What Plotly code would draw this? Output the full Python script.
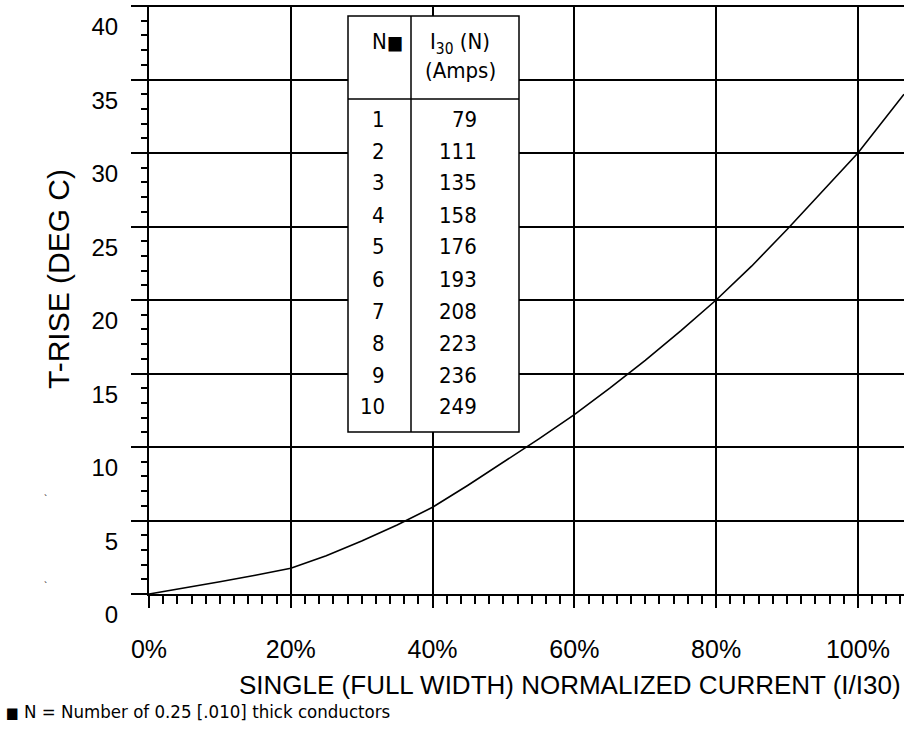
import plotly.graph_objects as go

# Temperature rise vs. normalized current
current_frac = [0, 0.05, 0.10, 0.15, 0.20, 0.25, 0.30, 0.35, 0.40, 0.45, 0.50,
                0.55, 0.60, 0.65, 0.70, 0.75, 0.80, 0.85, 0.90, 0.95, 1.00, 1.065]
t_rise = [0, 0.40, 0.83, 1.27, 1.75, 2.6, 3.6, 4.7, 5.9, 7.4, 8.95,
          10.55, 12.2, 14.0, 15.9, 17.9, 20.0, 22.3, 24.8, 27.4, 30.0, 34.0]

# Table of I30 per number of conductors
n_conductors = [1, 2, 3, 4, 5, 6, 7, 8, 9, 10]
i30_amps = [79, 111, 135, 158, 176, 193, 208, 223, 236, 249]

x_ticks = [0, 0.2, 0.4, 0.6, 0.8, 1.0]
x_tick_labels = ["0%", "20%", "40%", "60%", "80%", "100%"]
y_ticks = [0, 5, 10, 15, 20, 25, 30, 35, 40]

W, H = 904, 733
ML, MR, MT, MB = 149, 0, 6, 139
PW, PH = W - ML - MR, H - MT - MB

def px(xp):
    return (xp - ML) / PW

def py(yp):
    return (H - MB - yp) / PH

SANS = "Liberation Sans, Arial, sans-serif"
NARROW = ("Liberation Sans Narrow, Arial Narrow, DejaVu Sans Condensed, "
          "Roboto Condensed, Liberation Sans, sans-serif")

def square(size):
    return '<span style="font-size:%dpx">■</span>' % size

fig = go.Figure()
fig.add_trace(go.Scatter(x=current_frac, y=t_rise, mode="lines",
                         line=dict(color="black", width=1.6),
                         hoverinfo="skip", showlegend=False))

fig.update_xaxes(
    range=[0, 1.065], tickvals=x_ticks, ticktext=x_tick_labels,
    showgrid=True, gridcolor="black", gridwidth=2,
    showline=True, linecolor="black", linewidth=2,
    ticks="outside", ticklen=12, tickwidth=2, tickcolor="black",
    minor=dict(dtick=0.02, ticks="outside", ticklen=8, tickwidth=1.5,
               tickcolor="black", showgrid=False),
    tickfont=dict(family=SANS, size=25, color="black"),
    ticklabelstandoff=20, zeroline=False,
)
fig.update_yaxes(
    range=[0, 40], tickvals=y_ticks,
    showgrid=True, gridcolor="black", gridwidth=2,
    showline=True, linecolor="black", linewidth=2,
    ticks="outside", ticklen=16, tickwidth=2, tickcolor="black",
    minor=dict(dtick=1, ticks="outside", ticklen=6, tickwidth=1.5,
               tickcolor="black", showgrid=False),
    tickfont=dict(family=SANS, size=24, color="black"),
    ticklabelshift=21, ticklabelstandoff=8, zeroline=False,
)

shapes = []
# top border at 40
shapes.append(dict(type="line", xref="paper", yref="paper",
                   x0=px(133), x1=1, y0=1, y1=1,
                   line=dict(color="black", width=2)))

# table box
tx0, tx1, tdiv = px(348), px(519), px(411)
ty0, ty1, thead = py(432), py(16), py(99)
shapes.append(dict(type="rect", xref="paper", yref="paper",
                   x0=tx0, x1=tx1, y0=ty0, y1=ty1,
                   fillcolor="white", line=dict(color="black", width=1.5),
                   layer="above"))
shapes.append(dict(type="line", xref="paper", yref="paper",
                   x0=tdiv, x1=tdiv, y0=ty0, y1=ty1,
                   line=dict(color="black", width=1.5)))
shapes.append(dict(type="line", xref="paper", yref="paper",
                   x0=tx0, x1=tx1, y0=thead, y1=thead,
                   line=dict(color="black", width=1.5)))

annotations = []
tfont = dict(family=NARROW, size=22, color="black")
annotations.append(dict(xref="paper", yref="paper", x=px(405), y=py(42),
                        text="N" + square(19), showarrow=False, xanchor="right",
                        yanchor="middle", font=tfont))
annotations.append(dict(xref="paper", yref="paper", x=px(460), y=py(44),
                        text="I<sub>30</sub> (N)", showarrow=False,
                        xanchor="center", yanchor="middle", font=tfont))
annotations.append(dict(xref="paper", yref="paper", x=px(460), y=py(70),
                        text="(Amps)", showarrow=False,
                        xanchor="center", yanchor="middle", font=tfont))
for i, (n, a) in enumerate(zip(n_conductors, i30_amps)):
    yc = py(119 + 32 * i)
    annotations.append(dict(xref="paper", yref="paper", x=px(387), y=yc,
                            text=str(n), showarrow=False, xanchor="right",
                            yanchor="middle", font=tfont))
    annotations.append(dict(xref="paper", yref="paper", x=px(479), y=yc,
                            text=str(a), showarrow=False, xanchor="right",
                            yanchor="middle", font=tfont))

# axis titles
annotations.append(dict(xref="paper", yref="paper", x=px(903), y=py(685),
                        text="SINGLE (FULL WIDTH) NORMALIZED CURRENT (I/I30)",
                        showarrow=False, xanchor="right", yanchor="middle",
                        font=dict(family=SANS, size=26, color="black")))
annotations.append(dict(xref="paper", yref="paper", x=px(58), y=py(279),
                        text="T-RISE (DEG C)", textangle=-90,
                        showarrow=False, xanchor="center", yanchor="middle",
                        font=dict(family=SANS, size=30, color="black")))
# small marks on the left margin
for yy in (499, 586):
    annotations.append(dict(xref="paper", yref="paper", x=px(45), y=py(yy),
                            text="`", showarrow=False, xanchor="center",
                            yanchor="middle",
                            font=dict(family=SANS, size=10, color="black")))
# footnote
annotations.append(dict(xref="paper", yref="paper", x=px(4), y=py(711),
                        text=square(15) + " N = Number of 0.25 [.010] thick conductors",
                        showarrow=False, xanchor="left", yanchor="middle",
                        font=dict(family=NARROW, size=18.5, color="black")))

fig.update_layout(
    width=W, height=H,
    margin=dict(l=ML, r=MR, t=MT, b=MB, pad=0),
    paper_bgcolor="white", plot_bgcolor="white",
    shapes=shapes, annotations=annotations, showlegend=False,
)

fig.write_html("out.html")
